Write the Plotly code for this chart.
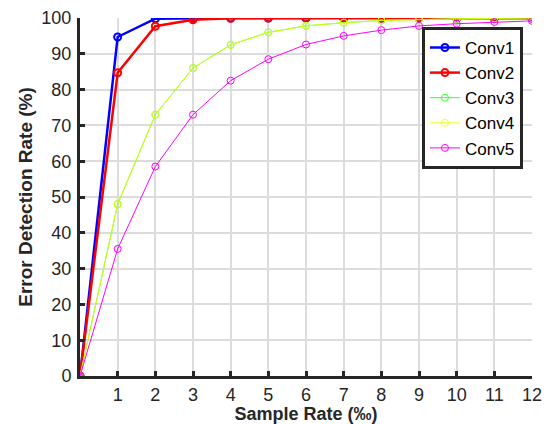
import plotly.graph_objects as go

sample_rate = [0, 1, 2, 3, 4, 5, 6, 7, 8, 9, 10, 11, 12]
conv1 = [0, 94.7, 99.8, 100, 100, 100, 100, 100, 100, 100, 100, 100, 100]
conv2 = [0, 84.7, 97.7, 99.5, 99.9, 100, 100, 100, 100, 100, 100, 100, 100]
conv3 = [0, 48.0, 73.0, 86.0, 92.5, 96.0, 97.8, 98.7, 99.3, 99.6, 99.8, 99.9, 100]
conv4 = [0, 48.0, 73.0, 86.0, 92.5, 96.0, 97.8, 98.7, 99.3, 99.6, 99.8, 99.9, 100]
conv5 = [0, 35.5, 58.5, 73.0, 82.5, 88.5, 92.6, 95.0, 96.6, 97.8, 98.4, 98.9, 99.2]

x_ticks = [1, 2, 3, 4, 5, 6, 7, 8, 9, 10, 11, 12]
y_ticks = [0, 10, 20, 30, 40, 50, 60, 70, 80, 90, 100]

series = [
    ("Conv1", conv1, "#0000ff", 2.5, 2),
    ("Conv2", conv2, "#ff0000", 2.5, 2),
    ("Conv3", conv3, "#33ff33", 1, 1),
    ("Conv4", conv4, "rgba(240,255,0,0.85)", 1, 1),
    ("Conv5", conv5, "#ff00ff", 1, 1),
]

fig = go.Figure()
for name, ys, color, lw, mw in series:
    fig.add_trace(go.Scatter(
        x=sample_rate, y=ys, name=name, mode="lines+markers",
        line=dict(color=color, width=lw),
        marker=dict(symbol="circle-open", size=7, color=color, line=dict(width=mw, color=color)),
    ))

font = "Liberation Sans, Arial, Helvetica, sans-serif"
# page body has an 8px margin; the figure is offset by it inside the window
fig.update_layout(
    width=536, height=416,
    margin=dict(l=72, r=12, t=10, b=48, autoexpand=False),
    paper_bgcolor="white", plot_bgcolor="white",
    font=dict(family=font, size=18, color="#262626"),
    showlegend=True,
    legend=dict(
        x=0.98, y=0.975, xanchor="right", yanchor="top",
        bgcolor="white", bordercolor="#262626", borderwidth=3,
        font=dict(size=17, color="black"),
        tracegroupgap=0, itemwidth=30,
    ),
    xaxis=dict(
        range=[0, 12], tickvals=x_ticks, ticktext=[str(v) for v in x_ticks],
        showgrid=True, gridcolor="#dcdcdc", gridwidth=2,
        showline=True, linecolor="#262626", linewidth=3,
        ticks="inside", ticklen=5, tickwidth=3, tickcolor="#262626",
        zeroline=False, automargin=False, ticklabelstandoff=0,
        title=dict(text="<b>Sample Rate (‰)</b>", font=dict(size=18, color="#262626"), standoff=4),
    ),
    yaxis=dict(
        range=[0, 100], tickvals=y_ticks, ticktext=[str(v) for v in y_ticks],
        showgrid=True, gridcolor="#dcdcdc", gridwidth=2,
        showline=True, linecolor="#262626", linewidth=3,
        ticks="inside", ticklen=5, tickwidth=3, tickcolor="#262626",
        zeroline=False, automargin=False, ticklabelstandoff=2,
        title=dict(text="<b>Error Detection Rate (%)</b>", font=dict(size=19, color="#262626"), standoff=4),
    ),
)

fig.write_html("out.html")
